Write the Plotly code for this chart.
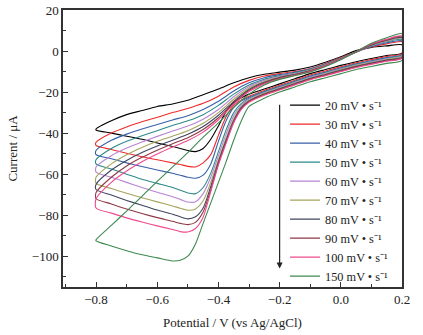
import plotly.graph_objects as go

# Potential grids (V vs Ag/AgCl)
potential_anodic = [-0.8, -0.75, -0.7, -0.65, -0.6, -0.55, -0.5, -0.45, -0.4, -0.35, -0.3,
                    -0.25, -0.2, -0.15, -0.1, -0.05, 0.0, 0.05, 0.1, 0.15, 0.2]
potential_cathodic = [0.2, 0.15, 0.1, 0.05, 0.0, -0.05, -0.1, -0.15, -0.2, -0.25, -0.3, -0.325,
                      -0.35, -0.375, -0.4, -0.425, -0.45, -0.475, -0.5, -0.525, -0.55, -0.6,
                      -0.65, -0.7, -0.75, -0.8]

scan_rates = ["20", "30", "40", "50", "60", "70", "80", "90", "100", "150"]
colors = ["#000000", "#ee2b2b", "#3a60a8", "#2e8a8a", "#b884d4", "#a6a45e",
          "#3f4660", "#8e3a46", "#f04a8e", "#3d8a50"]

# Anodic (forward) branch currents, µA
i_anodic = {
    "20":  [-38, -34, -31, -29, -27, -25.8, -24, -21.3, -18.5, -15.5, -13, -11.3, -10.3, -9.3, -7.8, -5.5, -2.8, 0.2, 1.8, 2.5, 3],
    "30":  [-44.5, -40, -37, -34.5, -32.3, -30, -28, -25.5, -22, -17.5, -14.3, -12.2, -11, -10, -8.5, -6, -3.2, -0.3, 2, 3.5, 4.5],
    "40":  [-48.5, -43.5, -40.5, -38, -35.8, -33.6, -31.5, -28.5, -24.5, -19.5, -15.5, -13, -11.5, -10.3, -8.8, -6.3, -3.4, -0.5, 2.2, 4, 5],
    "50":  [-53, -47.5, -44, -41.3, -38.8, -36.3, -34, -31, -26.5, -21, -16.5, -13.8, -12, -10.7, -9, -6.5, -3.5, -0.5, 2.5, 4.5, 5.5],
    "60":  [-56.5, -51, -47.3, -44.3, -41.6, -39, -36.5, -33.2, -28.5, -22.3, -17.3, -14.3, -12.3, -11, -9.2, -6.7, -3.6, -0.5, 2.7, 4.8, 6],
    "70":  [-61.5, -55, -50.5, -47, -44, -41.5, -38.8, -35.2, -30, -23.5, -18, -14.8, -12.6, -11.2, -9.4, -6.8, -3.7, -0.5, 2.8, 5, 6.2],
    "80":  [-65, -58, -53.3, -49.5, -46.3, -43.5, -40.6, -36.8, -31.3, -24.5, -18.7, -15.2, -12.9, -11.4, -9.6, -7, -3.8, -0.5, 3, 5.3, 6.5],
    "90":  [-69, -61.5, -56, -51.8, -48.3, -45.2, -42.2, -38.2, -32.5, -25.3, -19.2, -15.6, -13.2, -11.6, -9.8, -7.1, -3.9, -0.4, 3.2, 5.5, 7],
    "100": [-72, -64, -58.5, -54, -50.2, -46.8, -43.6, -39.5, -33.5, -26, -19.8, -16, -13.5, -11.8, -10, -7.2, -4, -0.3, 3.4, 5.8, 7.3],
    "150": [-92, -85, -78, -70.8, -63.5, -56.5, -49.5, -42, -35, -27.5, -21, -16.5, -13.8, -12, -10.2, -7.5, -4.2, -0.3, 3.8, 6.5, 8.4],
}

# Cathodic (reverse) branch currents, µA
i_cathodic = {
    "20":  [-1, -2.2, -3.6, -5.2, -7, -9, -11, -13.5, -16, -18.5, -21, -22.8, -25, -29.5, -36.5, -43, -47.5, -49, -48.5, -47.5, -46.5, -44.8, -43, -41.5, -40, -38.5],
    "30":  [-1.2, -2.7, -4.2, -5.7, -7.7, -9.7, -11.7, -14.2, -16.7, -19.2, -22, -23.8, -26.5, -32, -41, -50.5, -54.5, -56.5, -56.2, -55.3, -54.5, -53, -51.5, -49.8, -48, -46],
    "40":  [-1.7, -3.2, -4.7, -6.2, -8.2, -10.2, -12.2, -14.7, -17.2, -19.7, -22.5, -24.3, -27.5, -34, -44, -55, -60.5, -62, -61.5, -60.5, -59.6, -58, -56.3, -54.5, -52.5, -50.5],
    "50":  [-2, -3.5, -5, -6.5, -8.5, -10.5, -12.5, -15, -17.5, -20, -23, -25.5, -30, -38.5, -49, -59.5, -66.5, -69.5, -69.2, -67.8, -66.5, -64.5, -62.5, -60, -57.5, -55],
    "60":  [-2.3, -3.8, -5.3, -6.8, -8.8, -10.8, -12.8, -15.3, -17.8, -20.3, -23.5, -26.2, -31.5, -40.5, -51, -61.5, -69.5, -73.5, -73.6, -72.3, -71, -68.8, -66.5, -64, -61.5, -59],
    "70":  [-2.6, -4.1, -5.6, -7.1, -9.1, -11.1, -13.1, -15.6, -18.1, -20.6, -24, -27, -33, -42.5, -53, -64, -73, -77, -77.6, -76.6, -75.5, -73.5, -71.5, -69.3, -67, -64.5],
    "80":  [-2.9, -4.4, -5.9, -7.4, -9.4, -11.4, -13.4, -15.9, -18.4, -20.9, -24.3, -27.5, -34, -43.5, -54, -66, -76.5, -80.8, -81.8, -80.8, -79.5, -77.5, -75.2, -72.8, -70.2, -67.5],
    "90":  [-3.2, -4.7, -6.2, -7.7, -9.7, -11.7, -13.7, -16.2, -18.7, -21.2, -24.6, -28, -34.5, -44.5, -55, -67.5, -78.5, -83.5, -84.6, -84, -83, -81.2, -79.2, -77, -74.5, -72],
    "100": [-3.5, -5, -6.5, -8, -10, -12, -14, -16.5, -19, -21.5, -25, -28.5, -35, -45, -55.5, -68.5, -81, -86.5, -88.2, -88, -87, -85.2, -83.3, -81.3, -79, -76.5],
    "150": [-4.5, -6, -7.5, -9, -11, -13, -15, -17.5, -20, -23, -27, -34, -43.5, -54, -64, -74, -84, -94, -100, -102, -102.3, -100.8, -99.3, -97.3, -95, -92.5],
}

arrow_potential = -0.2
arrow_from_current = -25.5
arrow_to_current = -106

FONT = "Liberation Serif, Times New Roman, serif"

fig = go.Figure()
for rate, col in zip(scan_rates, colors):
    xs = potential_anodic + potential_cathodic + [potential_anodic[0]]
    ys = i_anodic[rate] + i_cathodic[rate] + [i_anodic[rate][0]]
    fig.add_trace(go.Scatter(
        x=xs, y=ys, mode="lines",
        line=dict(color=col, width=1.1, shape="spline", smoothing=0.7),
        name=f"{rate} mV • s⁻¹",
    ))

fig.add_annotation(
    x=arrow_potential, y=arrow_to_current, ax=arrow_potential, ay=arrow_from_current,
    xref="x", yref="y", axref="x", ayref="y", text="", showarrow=True,
    arrowhead=2, arrowsize=1, arrowwidth=1.2, arrowcolor="#222222",
)

axis_common = dict(
    showline=True, linecolor="#333333", linewidth=1.5, mirror=True,
    ticks="inside", ticklen=5, tickwidth=1.2, tickcolor="#333333",
    showgrid=False, zeroline=False, automargin=False,
    tickfont=dict(family=FONT, size=13, color="#222222"),
)

fig.update_xaxes(
    range=[-0.908, 0.2], tick0=-0.8, dtick=0.2, tickformat=".1f",
    minor=dict(ticks="inside", ticklen=3, dtick=0.1, tick0=-0.8, tickcolor="#333333"),
    title=dict(text="Potential / V (vs Ag/AgCl)", font=dict(family=FONT, size=13, color="#222222"), standoff=12),
    **axis_common,
)
fig.update_yaxes(
    range=[-115, 20], tick0=0, dtick=20,
    minor=dict(ticks="inside", ticklen=3, dtick=10, tick0=0, tickcolor="#333333"),
    title=dict(text="Current / μA", font=dict(family=FONT, size=13, color="#222222"), standoff=11),
    **axis_common,
)

fig.update_layout(
    width=423, height=335,
    margin=dict(l=63, r=21, t=10, b=48),
    paper_bgcolor="white", plot_bgcolor="white",
    font=dict(family=FONT, size=13, color="#222222"),
    showlegend=True,
    legend=dict(x=0.655, y=0.709, xanchor="left", yanchor="top",
                bgcolor="rgba(255,255,255,0)", borderwidth=0,
                font=dict(family=FONT, size=12.3, color="#222222"),
                tracegroupgap=0, itemwidth=30),
)

fig.write_html("out.html", config={"displayModeBar": False},
               post_script="document.body.style.margin='0px';")
